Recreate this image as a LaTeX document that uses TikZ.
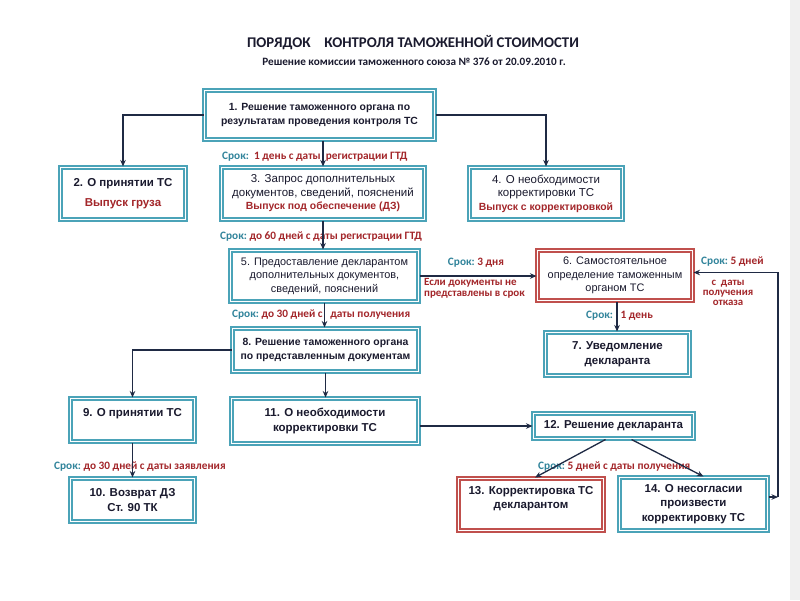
\documentclass[tikz,border=0pt]{standalone}
\usepackage{fontspec}
\setmainfont{Liberation Sans}
\newfontfamily\calib{Carlito}
\usetikzlibrary{arrows.meta}
\definecolor{bteal}{HTML}{4BA3B8}
\definecolor{bred}{HTML}{C0504D}
\definecolor{ink}{HTML}{1A1A2E}
\definecolor{tred}{HTML}{A3262A}
\definecolor{lteal}{HTML}{31849B}
\definecolor{arr}{HTML}{1F2A44}
\newcommand\srk{\textcolor{lteal}{Срок:}}
\tikzset{
  box/.style={draw=bteal, double=white, double distance=1.1pt, line width=2pt,
    fill=white, inner sep=0pt, align=center, text=ink,
    font=\bfseries\fontsize{10.4}{13.5}\selectfont},
  rbox/.style={box, draw=bred},
  reg/.style={font=\fontsize{11.5}{13.5}\selectfont},
  regs/.style={font=\fontsize{10.9}{13.5}\selectfont},
  big/.style={font=\bfseries\fontsize{11.5}{14.5}\selectfont},
  rt/.style={},
  conn/.style={draw=arr, line width=1.3pt, -{Stealth[length=6.5pt,width=5.5pt]}},
  lab/.style={font=\calib\bfseries\fontsize{11.3}{11.5}\selectfont, inner sep=0pt, text=tred},
}
\newcommand\redb[1]{\textcolor{tred}{\bfseries\fontsize{10.4}{13.5}\selectfont #1}}
\begin{document}
\begin{tikzpicture}[x=1pt,y=-1pt]
\useasboundingbox (0,0) rectangle (800,600);
\fill[white] (0,0) rectangle (800,600);
\fill[gray!12] (790,0) rectangle (800,600);

\node[font=\calib\bfseries\fontsize{14.8}{16}\selectfont, text=ink] (title) at (413,43)
  {ПОРЯДОК\hspace{0.7em} КОНТРОЛЯ ТАМОЖЕННОЙ СТОИМОСТИ};
\node[font=\calib\bfseries\fontsize{11.2}{12}\selectfont, text=ink] (sub) at (414,62)
  {Решение комиссии таможенного союза № 376 от 20.09.2010 г.};

% boxes
\node[box, minimum width=230, minimum height=49] (b1) at (319.5,115)
  {1. Решение таможенного органа по\\результатам проведения контроля ТС};
\node[box, big, minimum width=125, minimum height=52] (b2) at (123,193.5)
  {2. О принятии ТС\\[6pt]\textcolor{tred}{Выпуск груза}};
\node[box, reg, minimum width=203, minimum height=52] (b3) at (323,193.5)
  {3. Запрос дополнительных\\документов, сведений, пояснений\\\redb{Выпуск под обеспечение (ДЗ)}};
\node[box, reg, minimum width=153, minimum height=52] (b4) at (546,193.5)
  {4. О необходимости\\корректировки ТС\\\redb{Выпуск с корректировкой}};
\node[box, regs, minimum width=188, minimum height=51] (b5) at (324.5,276)
  {5. Предоставление декларантом\\дополнительных документов,\\сведений, пояснений};
\node[rbox, regs, minimum width=155, minimum height=50] (b6) at (615,275.5)
  {6. Самостоятельное\\определение таможенным\\органом ТС};
\node[box, big, minimum width=144, minimum height=43] (b7) at (617.5,354)
  {7. Уведомление\\декларанта};
\node[box, minimum width=186, minimum height=43] (b8) at (325.5,350)
  {8. Решение таможенного органа\\по представленным документам};
\node[box, big, minimum width=124, minimum height=43] (b9) at (132.5,420)
  {9. О принятии ТС\\[1pt]\mbox{}};
\node[box, big, minimum width=187, minimum height=45] (b11) at (325,421)
  {11. О необходимости\\корректировки ТС};
\node[box, big, minimum width=160, minimum height=25] (b12) at (613.5,426)
  {12. Решение декларанта};
\node[box, big, minimum width=124, minimum height=43] (b10) at (132.5,500)
  {10. Возврат ДЗ\\Ст. 90 ТК};
\node[rbox, big, minimum width=145, minimum height=52] (b13) at (531,504.5)
  {13. Корректировка ТС\\декларантом\\\mbox{}};
\node[box, big, minimum width=148, minimum height=53] (b14) at (693.5,504)
  {14. О несогласии\\произвести\\корректировку ТС};

% labels
\node[lab, anchor=west] (l1) at (222,157) {\srk\ \ 1 день с даты\ \ регистрации ГТД};
\node[lab, anchor=west] (l2) at (220,237) {\srk\ до 60 дней с даты регистрации ГТД};
\node[lab, anchor=center] (l3) at (476,263) {\srk\ 3 дня};
\node[lab, anchor=west, align=left, font=\calib\bfseries\fontsize{11}{11}\selectfont] (l4) at (424,288)
  {Если документы не\\представлены в срок};
\node[lab, anchor=west] (l5) at (232,315) {\srk\ до 30 дней с\ \ \ даты получения};
\node[lab, anchor=west] (l6) at (586,316) {\srk\ \ \ 1 день};
\node[lab, anchor=west] (l7) at (54,467) {\srk\ до 30 дней с даты заявления};
\node[lab, anchor=west] (l8) at (538,467) {\srk\ 5 дней с даты получения};
\node[lab, anchor=west] (l9) at (701,262) {\srk\ 5 дней};
\node[lab, anchor=center, align=center, font=\calib\bfseries\fontsize{10.8}{9.8}\selectfont] (l10) at (728,293)
  {с\ \ даты\\получения\\отказа};

% connectors
\draw[conn] (b1.west) -| (b2.north);
\draw[conn] (b1.east) -| (b4.north);
\draw[conn] (b3.north |- b1.south) -- (b3.north);
\draw[conn] (b3.south) -- (b3.south |- b5.north);
\draw[conn] (b5.east) -- (b5.east -| b6.west);
\draw[conn] (b5.south) -- (b5.south |- b8.north);
\draw[conn] ([xshift=2pt]b6.south) -- ([xshift=2pt]b6.south |- b7.north);
\draw[conn] (b8.west) -| (b9.north);
\draw[conn] (b8.south) -- (b8.south |- b11.north);
\draw[conn] (b9.south) -- (b10.north);
\draw[conn] (b12.west -| b11.east) -- (b12.west);
\draw[conn] ([xshift=-8pt]b12.south) -- ([xshift=4pt]b13.north);
\draw[conn] ([xshift=18pt]b12.south) -- ([xshift=10pt]b14.north);
\coordinate (rc) at (778,497);
\draw[conn] ([yshift=7pt]b14.east) -- (rc);
\draw[conn] (rc) |- ([yshift=3pt]b6.east);
\end{tikzpicture}
\end{document}
